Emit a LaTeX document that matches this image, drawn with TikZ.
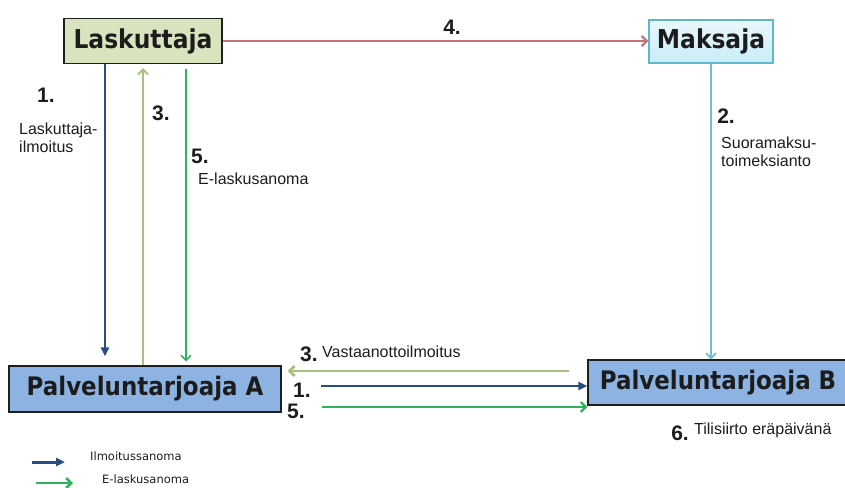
\documentclass[tikz,border=0pt]{standalone}
\usepackage{fontspec}
\setmainfont{Liberation Sans}
\newfontfamily\boxfont{DejaVu Sans}[FakeStretch=0.9]
\newfontfamily\legendfont{DejaVu Sans}
\usetikzlibrary{arrows.meta}
\definecolor{laskgreen}{HTML}{D7E4BD}
\definecolor{boxblue}{HTML}{8DB3E2}
\definecolor{boxline}{HTML}{1E1E1E}
\definecolor{maktop}{HTML}{EAF8FD}
\definecolor{makbot}{HTML}{C8ECF8}
\definecolor{makline}{HTML}{5FB6CE}
\definecolor{darkblue}{HTML}{274E80}
\definecolor{lightgreen}{HTML}{A6C27E}
\definecolor{msggreen}{HTML}{2DB35C}
\definecolor{paired}{HTML}{C97474}
\definecolor{paycyan}{HTML}{72BCD1}
\definecolor{labeltext}{HTML}{1C1C1C}

\begin{document}
\begin{tikzpicture}[x=1pt, y=-1pt,
		box/.style = {draw=boxline, line width=1.2pt, minimum height=45pt, inner sep=0pt, text=labeltext, font=\boxfont\bfseries\fontsize{25.5}{28}\selectfont},
		bigbox/.style = {box, font=\boxfont\bfseries\fontsize{26}{28}\selectfont},
		num/.style = {anchor=base, inner sep=0pt, text=labeltext, font=\bfseries\fontsize{21}{24}\selectfont},
		lbl/.style = {anchor=base west, inner sep=0pt, text=labeltext, font=\fontsize{16}{18}\selectfont},
		twolines/.style = {anchor=west, inner sep=0pt, align=left, text=labeltext, font=\fontsize{16}{18}\selectfont},
		key/.style = {anchor=west, inner sep=0pt, text=labeltext, font=\legendfont\fontsize{11.5}{13}\selectfont},
		solid tip/.style = {-{Triangle[length=9pt, width=8pt]}},
		open tip/.style = {-{Straight Barb[length=5pt, width=10pt]}}]
			\useasboundingbox (0,0) rectangle (845,487);
			\node[bigbox, fill=laskgreen, minimum width=158pt] (lask) at (143,41) {Laskuttaja};
			\node[bigbox, draw=makline, top color=maktop, bottom color=makbot, minimum width=124pt, minimum height=43pt] (maks) at (711,41.5) {Maksaja};
			\node[box, fill=boxblue, minimum width=272pt, minimum height=46pt] (pa) at (145,389) {Palveluntarjoaja A};
			\node[box, fill=boxblue, minimum width=260pt] (pb) at (718,382.5) {Palveluntarjoaja B};
			\coordinate (x1) at (105,0);
			\coordinate (x3) at (143,0);
			\coordinate (x5) at (186,0);
			\coordinate (y3) at (0,371);
			\coordinate (y1) at (0,386);
			\coordinate (y5) at (0,407);
			\draw[solid tip, darkblue, line width=2.6pt] (lask.south -| x1) -- ([yshift=9pt]pa.north -| x1);
			\draw[open tip, lightgreen, line width=2pt] (pa.north -| x3) -- ([yshift=-4pt]lask.south -| x3);
			\draw[open tip, msggreen, line width=1.6pt] ([yshift=-5pt]lask.south -| x5) -- ([yshift=4pt]pa.north -| x5);
			\draw[open tip, paired, line width=2.4pt] (lask.east) -- (lask.east -| maks.west);
			\draw[open tip, paycyan, line width=1.8pt] (maks.south) -- (maks.south |- pb.north);
			\draw[open tip, lightgreen, line width=2.8pt] ([xshift=-18pt]pb.west |- y3) -- ([xshift=6pt]pa.east |- y3);
			\draw[solid tip, darkblue, line width=2.8pt] ([xshift=39pt]pa.east |- y1) -- (pb.west |- y1);
			\draw[open tip, msggreen, line width=2.3pt] ([xshift=40pt]pa.east |- y5) -- (pb.west |- y5);
			\node[num] (n1) at (46,102) {1.};
			\node[twolines] (t1) at (19,138) {Laskuttaja-\\ilmoitus};
			\node[num] (n3) at (161,120) {3.};
			\node[num] (n5) at (200,163) {5.};
			\node[lbl] (t5) at (198,184) {E-laskusanoma};
			\node[num] (n4) at (452,35) {4.};
			\node[num] (n2) at (726,123) {2.};
			\node[twolines] (t2) at (721,151.5) {Suoramaksu-\\toimeksianto};
			\node[num] (b3) at (309,361) {3.};
			\node[lbl] (tb3) at (322,357) {Vastaanottoilmoitus};
			\node[num] (b1) at (302,397) {1.};
			\node[num] (b5) at (296,418) {5.};
			\node[num] (n6) at (680,440) {6.};
			\node[lbl] (t6) at (694,434) {Tilisiirto eräpäivänä};
			\coordinate (k1a) at (32,462);
			\coordinate (k1b) at (65,462);
			\coordinate (k2a) at (36,483);
			\coordinate (k2b) at (73,483);
			\draw[solid tip, darkblue, line width=3pt] (k1a) -- (k1b);
			\draw[open tip, msggreen, line width=2.5pt] (k2a) -- (k2b);
			\node[key] (ki) at (90,456) {Ilmoitussanoma};
			\node[key] (ke) at (102,479) {E-laskusanoma};
		\end{tikzpicture}
\end{document}
